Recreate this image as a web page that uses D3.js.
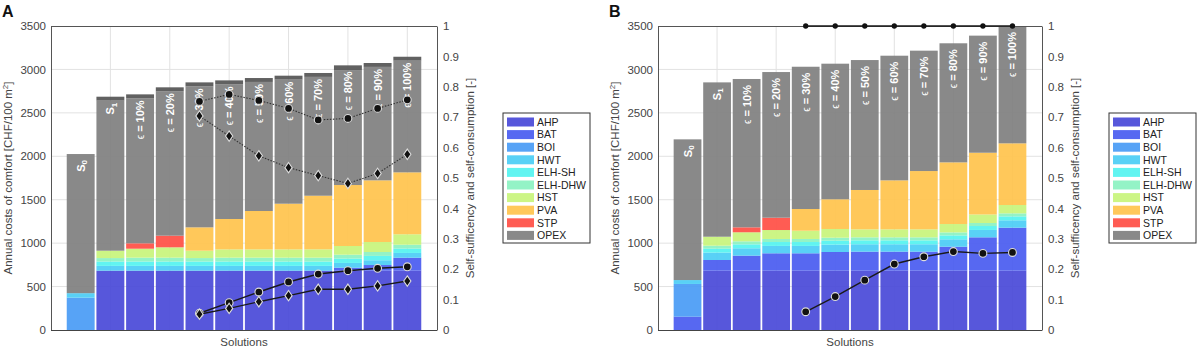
<!DOCTYPE html>
<html>
<head>
<meta charset="utf-8">
<script src="https://cdn.jsdelivr.net/npm/d3@7"></script>
<style>
  body { margin: 0; background: #fff; }
  svg { font-family: "Liberation Sans", Arial, sans-serif; }
</style>
</head>
<body>
<div id="chart"></div>
<script>
// categories (S_x = subscripted label)
const solutions = ["S_0", "S_1", "ϵ = 10%", "ϵ = 20%", "ϵ = 30%", "ϵ = 40%", "ϵ = 50%",
  "ϵ = 60%", "ϵ = 70%", "ϵ = 80%", "ϵ = 90%", "ϵ = 100%"];
const techs = ["AHP", "BAT", "BOI", "HWT", "ELH-SH", "ELH-DHW", "HST", "PVA", "STP", "OPEX"];
const techColors = ["#4a4ad8", "#4a5cf0", "#4a9cf5", "#4ccdf5", "#55f3f0", "#8cf2c2", "#c8f47c", "#ffc44e", "#ff5046", "#808080"];
const topColor = "#555555";

// panel A stacked costs [CHF/100 m2]
const ahpA    = [0, 683, 683, 683, 683, 683, 683, 683, 683, 683, 683, 683];
const batA    = [0, 0, 0, 0, 0, 0, 0, 0, 0, 34, 65, 149];
const boiA    = [372, 0, 0, 0, 0, 0, 0, 0, 0, 0, 0, 0];
const hwtA    = [52, 55, 55, 55, 55, 55, 55, 55, 55, 55, 55, 55];
const elhShA  = [0, 50, 50, 50, 50, 50, 50, 50, 50, 50, 50, 50];
const elhDhwA = [0, 40, 45, 45, 40, 45, 45, 45, 45, 45, 45, 45];
const hstA    = [0, 85, 103, 119, 85, 95, 95, 95, 96, 100, 115, 120];
const pvaA    = [0, 0, 0, 0, 269, 350, 442, 526, 617, 702, 710, 713];
const stpA    = [0, 0, 62, 134, 0, 0, 0, 0, 0, 0, 0, 0];
const opexA   = [1602, 1728, 1670, 1663, 1624, 1551, 1486, 1429, 1368, 1318, 1306, 1286];
const topA    = [0, 45, 45, 45, 45, 45, 45, 45, 45, 60, 45, 45];

// panel B stacked costs
const ahpB    = [0, 683, 683, 683, 683, 683, 683, 683, 683, 683, 683, 683];
const batB    = [153, 123, 173, 200, 200, 215, 219, 219, 219, 276, 384, 495];
const boiB    = [377, 0, 0, 0, 0, 0, 0, 0, 0, 0, 0, 0];
const hwtB    = [45, 85, 85, 85, 85, 85, 85, 85, 85, 85, 85, 85];
const elhShB  = [0, 45, 45, 45, 45, 45, 45, 45, 45, 45, 45, 45];
const elhDhwB = [0, 35, 35, 35, 35, 35, 35, 35, 35, 35, 35, 35];
const hstB    = [0, 103, 104, 103, 95, 100, 92, 92, 92, 96, 98, 96];
const pvaB    = [0, 0, 0, 0, 250, 342, 453, 564, 671, 710, 711, 710];
const stpB    = [0, 0, 57, 142, 0, 0, 0, 0, 0, 0, 0, 0];
const opexB   = [1620, 1777, 1708, 1677, 1638, 1561, 1496, 1435, 1386, 1371, 1348, 1351];
const topB    = [0, 0, 0, 0, 0, 0, 0, 0, 0, 0, 0, 0];

// self-sufficiency / self-consumption, solutions e30..e100
const lineCats = solutions.slice(4);
const scDotCircleA   = [0.752, 0.775, 0.755, 0.729, 0.691, 0.696, 0.729, 0.757];
const scDotDiamondA  = [0.704, 0.638, 0.573, 0.534, 0.508, 0.482, 0.515, 0.578];
const ssCircleA      = [0.055, 0.090, 0.125, 0.158, 0.184, 0.195, 0.203, 0.208];
const ssDiamondA     = [0.052, 0.071, 0.093, 0.113, 0.134, 0.134, 0.145, 0.161];
const scDotB         = [1, 1, 1, 1, 1, 1, 1, 1];
const ssCircleB      = [0.060, 0.110, 0.164, 0.217, 0.241, 0.258, 0.252, 0.255];

const costTicks = [0, 500, 1000, 1500, 2000, 2500, 3000, 3500];
const ratioTicks = [0, 0.1, 0.2, 0.3, 0.4, 0.5, 0.6, 0.7, 0.8, 0.9, 1];

const svg = d3.select("#chart").append("svg").attr("width", 1198).attr("height", 348);

function buildTable(cols, top) {
  return solutions.map((s, i) => {
    const row = { name: s, TOP: top[i] };
    techs.forEach((t, k) => row[t] = cols[k][i]);
    return row;
  });
}

class CostPanel {
  constructor(svg, left, right, top, bottom, letter) {
    this.g = svg.append("g");
    this.left = left; this.right = right; this.top = top; this.bottom = bottom;
    this.x = d3.scaleLinear().domain([0, solutions.length + 1]).range([left, right]);
    this.y = d3.scaleLinear().domain([0, 3500]).range([bottom, top]);
    this.y2 = d3.scaleLinear().domain([0, 1]).range([bottom, top]);

    this.g.append("text").attr("x", left - 49).attr("y", 17)
      .attr("font-size", 16).attr("font-weight", "bold").attr("fill", "#111").text(letter);
  }

  render(table) {
    const { g, x, y } = this;
    // grid
    g.append("g").selectAll("line").data(costTicks.slice(1, -1)).join("line")
      .attr("x1", this.left).attr("x2", this.right)
      .attr("y1", d => y(d)).attr("y2", d => y(d))
      .attr("stroke", "#e2e2e2");
    g.append("g").selectAll("line").data(d3.range(2, solutions.length + 1, 2)).join("line")
      .attr("x1", d => x(d)).attr("x2", d => x(d))
      .attr("y1", this.top).attr("y2", this.bottom)
      .attr("stroke", "#e2e2e2");

    // stacked bars
    const keys = techs.concat(["TOP"]);
    const colors = techColors.concat([topColor]);
    const series = d3.stack().keys(keys)(table);
    const bw = (x(1) - x(0)) * 0.94;
    g.append("g").selectAll("g").data(series).join("g")
      .attr("fill", (d, k) => colors[k])
      .selectAll("rect").data(d => d).join("rect")
      .attr("x", (d, i) => x(i + 1) - bw / 2)
      .attr("width", bw)
      .attr("y", d => y(d[1]))
      .attr("height", d => y(d[0]) - y(d[1]))
      .attr("fill-opacity", 0.93);

    // bar labels
    const lab = g.append("g").selectAll("text").data(series[series.length - 1]).join("text")
      .attr("transform", (d, i) => `translate(${x(i + 1)},${y(d[1]) + 6})rotate(-90)`)
      .attr("text-anchor", "end").attr("dy", "0.36em")
      .attr("fill", "#fff").attr("font-weight", "bold").attr("font-size", 11);
    lab.each(function(d, i) {
      const s = solutions[i];
      const t = d3.select(this);
      if (s.startsWith("S_")) {
        t.append("tspan").text("S");
        t.append("tspan").attr("font-size", 8).attr("dy", "0.3em").text(s.slice(2));
      } else {
        t.append("tspan").attr("font-weight", "normal").attr("font-size", 10).text(s[0]);
        t.append("tspan").text(s.slice(1));
      }
    });

    // axes
    const ax = g.append("g").attr("transform", `translate(${this.left},0)`)
      .call(d3.axisLeft(y).tickValues(costTicks).tickSize(0).tickPadding(5).tickFormat(d3.format("d")));
    const ax2 = g.append("g").attr("transform", `translate(${this.right},0)`)
      .call(d3.axisRight(this.y2).tickValues(ratioTicks).tickSize(0).tickPadding(6)
        .tickFormat(d => String(+d.toFixed(1))));
    [ax, ax2].forEach(a => {
      a.select(".domain").attr("stroke", "#555");
      a.selectAll("text").attr("fill", "#444").attr("font-size", 11.5)
        .attr("font-family", "Liberation Sans, Arial, sans-serif");
    });
    g.append("line").attr("x1", this.left).attr("x2", this.right)
      .attr("y1", this.top + 0.5).attr("y2", this.top + 0.5).attr("stroke", "#555");
    g.append("line").attr("x1", this.left).attr("x2", this.right)
      .attr("y1", this.bottom + 0.5).attr("y2", this.bottom + 0.5).attr("stroke", "#444");

    // axis titles
    const mid = (this.top + this.bottom) / 2;
    const t1 = g.append("text")
      .attr("transform", `translate(${this.left - 39},${mid})rotate(-90)`)
      .attr("text-anchor", "middle").attr("fill", "#444").attr("font-size", 11.5);
    t1.append("tspan").text("Annual costs of comfort [CHF/100 m");
    t1.append("tspan").attr("font-size", 8).attr("dy", "-0.5em").text("2");
    t1.append("tspan").attr("dy", "0.35em").text("]");
    g.append("text")
      .attr("transform", `translate(${this.right + 33},${mid})rotate(-90)`)
      .attr("text-anchor", "middle").attr("dy", "0.35em").attr("fill", "#444").attr("font-size", 11.5)
      .text("Self-sufficency and self-consumption [-]");
    g.append("text").attr("x", (this.left + this.right) / 2).attr("y", 346)
      .attr("text-anchor", "middle").attr("fill", "#444").attr("font-size", 11.5).text("Solutions");
  }

  line(values, opts) {
    const { g, x } = this;
    const y2 = this.y2;
    const pts = values.map((v, i) => [x(solutions.indexOf(lineCats[i]) + 1), y2(v)]);
    g.append("path").attr("d", d3.line()(pts)).attr("fill", "none")
      .attr("stroke", opts.dotted ? "#333" : "#1a1a1a")
      .attr("stroke-width", opts.dotted ? 1.1 : 1.4)
      .attr("stroke-dasharray", opts.dotted ? "1.5,1.5" : null);
    const m = g.append("g").selectAll("path").data(pts).join("path")
      .attr("transform", d => `translate(${d[0]},${d[1]})`)
      .attr("fill", "#111");
    if (opts.marker === "diamond") {
      m.attr("d", "M0,-5.2L3.6,0L0,5.2L-3.6,0Z").attr("stroke", "#ddd").attr("stroke-width", 1.1);
    } else if (opts.marker === "dot") {
      m.attr("d", d3.symbol(d3.symbolCircle, 22)());
    } else {
      m.attr("d", d3.symbol(d3.symbolCircle, 48)()).attr("stroke", "#ddd").attr("stroke-width", 1.1);
    }
  }

  legend(lx, ly) {
    const g = this.g.append("g").attr("transform", `translate(${lx},${ly})`);
    g.append("rect").attr("width", 87).attr("height", 130)
      .attr("fill", "#fff").attr("stroke", "#333");
    const row = g.selectAll("g").data(techs).join("g")
      .attr("transform", (d, i) => `translate(4,${9 + i * 12.6})`);
    row.append("rect").attr("x", 0).attr("y", -4.5).attr("width", 27).attr("height", 9)
      .attr("fill", (d, i) => techColors[i]).attr("fill-opacity", 0.93);
    row.append("text").attr("x", 30).attr("dy", "0.36em").attr("font-size", 10.5)
      .attr("fill", "#222").text(d => d);
  }
}

const colsA = [ahpA, batA, boiA, hwtA, elhShA, elhDhwA, hstA, pvaA, stpA, opexA];
const colsB = [ahpB, batB, boiB, hwtB, elhShB, elhDhwB, hstB, pvaB, stpB, opexB];

const panelA = new CostPanel(svg, 51, 437, 26, 330, "A");
panelA.render(buildTable(colsA, topA));
panelA.line(scDotCircleA, { dotted: true, marker: "circle" });
panelA.line(scDotDiamondA, { dotted: true, marker: "diamond" });
panelA.line(ssCircleA, { dotted: false, marker: "circle" });
panelA.line(ssDiamondA, { dotted: false, marker: "diamond" });
panelA.legend(503, 113);

const panelB = new CostPanel(svg, 658, 1042, 26, 330, "B");
panelB.render(buildTable(colsB, topB));
panelB.line(scDotB, { dotted: false, marker: "dot" });
panelB.line(ssCircleB, { dotted: false, marker: "circle" });
panelB.legend(1109, 113);
</script>
</body>
</html>
